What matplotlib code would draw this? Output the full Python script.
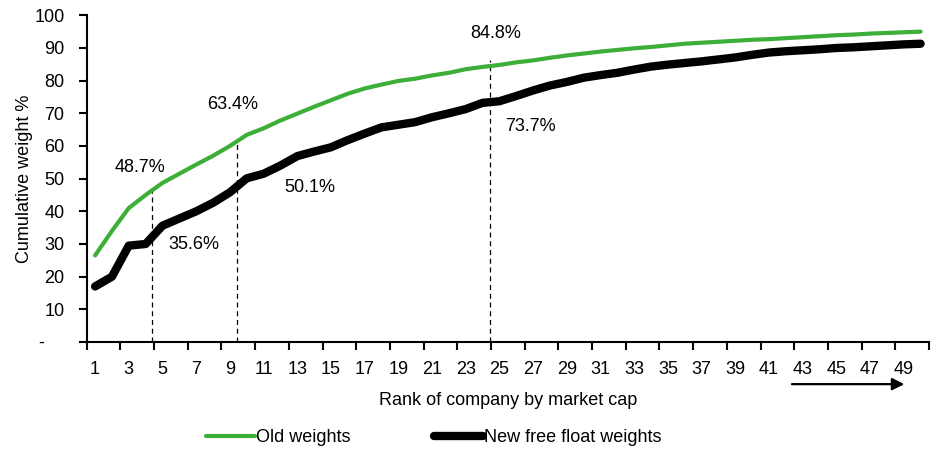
import matplotlib
matplotlib.use("Agg")
import matplotlib.pyplot as plt
import numpy as np

plt.rcParams['font.family'] = ['Liberation Sans', 'DejaVu Sans']
plt.rcParams['font.size'] = 13

# cumulative weight by rank
old_weights = [26.5, 34.0, 41.0, 45.0, 48.7, 51.5, 54.3, 57.0, 60.0, 63.4,
               65.4, 67.8, 69.9, 72.0, 74.0, 76.0, 77.6, 78.8, 79.9, 80.6,
               81.6, 82.4, 83.5, 84.2, 84.8, 85.6, 86.2, 87.0, 87.7, 88.3,
               88.9, 89.4, 89.9, 90.3, 90.8, 91.3, 91.6, 91.9, 92.2, 92.5,
               92.7, 93.0, 93.3, 93.6, 93.9, 94.1, 94.4, 94.6, 94.8, 95.0]
new_weights = [17.0, 20.0, 29.5, 30.0, 35.6, 37.8, 40.0, 42.6, 45.8, 50.1,
               51.5, 54.0, 56.9, 58.3, 59.6, 61.8, 63.8, 65.7, 66.5, 67.3,
               68.8, 70.0, 71.3, 73.2, 73.7, 75.3, 77.0, 78.5, 79.6, 80.9,
               81.7, 82.4, 83.4, 84.3, 84.9, 85.4, 85.9, 86.5, 87.1, 87.9,
               88.6, 89.0, 89.3, 89.6, 90.0, 90.2, 90.5, 90.8, 91.1, 91.3]
ranks = np.arange(1, len(old_weights) + 1)

# marker lines: (x position, top) and text labels
cut_x = [4.37, 9.45, 24.42]
cut_top = [47.9, 62.2, 86.4]
labels_txt = ['48.7%', '35.6%', '63.4%', '50.1%', '84.8%', '73.7%']
labels_x = [3.69, 6.87, 9.15, 13.72, 24.76, 26.87]
labels_y = [53.3, 29.7, 72.6, 47.4, 94.3, 66.0]

y_ticks = list(range(0, 101, 10))
y_ticklabels = ['-    '] + [str(v) for v in y_ticks[1:]]

fig = plt.figure(figsize=(9.35, 4.5), dpi=100)
ax = fig.add_axes([0.0927, 0.24, 0.9009, 0.726])

green = '#3DAE37'
ax.plot(ranks, old_weights, color=green, lw=3, solid_capstyle='round',
        label='Old weights', zorder=3)
ax.plot(ranks, new_weights, color='black', lw=6, solid_capstyle='round',
        label='New free float weights', zorder=3)

for x, top in zip(cut_x, cut_top):
    ax.plot([x, x], [0, top], color='black', lw=0.9, ls=(0, (4, 3)), zorder=2)

for t, x, y in zip(labels_txt, labels_x, labels_y):
    ax.text(x, y, t, ha='center', va='center')

ax.set_xlim(0.5, 50.5)
ax.set_ylim(0, 100)
ax.set_xticks(np.arange(0.5, 51, 2))
ax.set_xticklabels([])
ax.set_xticks(np.arange(1, 50, 2), minor=True)
ax.set_xticklabels([str(v) for v in range(1, 50, 2)], minor=True)
ax.tick_params(axis='x', which='major', direction='out', length=6, width=1.5)
ax.tick_params(axis='x', which='minor', length=0, pad=14)
ax.set_yticks(y_ticks)
ax.set_yticklabels(y_ticklabels)
ax.tick_params(axis='y', direction='out', length=6, width=1.5, pad=10)

for s in ['top', 'right']:
    ax.spines[s].set_visible(False)
for s in ['left', 'bottom']:
    ax.spines[s].set_linewidth(1.5)

ax.set_xlabel('Rank of company by market cap')
ax.xaxis.set_label_coords(0.5, -0.153)
ax.set_ylabel('Cumulative weight %')
ax.yaxis.set_label_coords(-0.064, 0.5)

ax.annotate('', xy=(49.2, -0.129), xytext=(42.2, -0.129),
            xycoords=('data', 'axes fraction'), textcoords=('data', 'axes fraction'),
            arrowprops=dict(arrowstyle='-|>', lw=1.6, color='black', mutation_scale=18),
            annotation_clip=False)

fig.legend(loc='center', bbox_to_anchor=(0.464, 0.027), ncol=2, frameon=False,
           handlelength=2.7, handletextpad=0.1, columnspacing=4.6)

fig.savefig('out.png', dpi=100)
